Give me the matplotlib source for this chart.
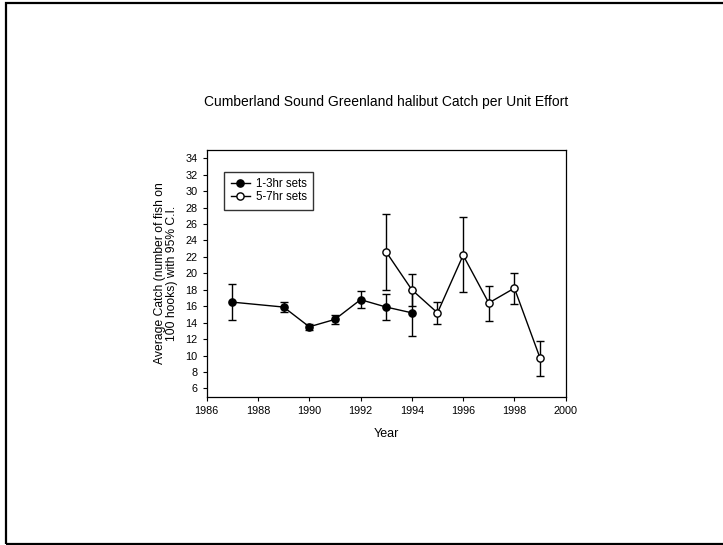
import numpy as np
import matplotlib
matplotlib.use("Agg")
import matplotlib.pyplot as plt
from matplotlib.patches import Rectangle
from matplotlib.lines import Line2D

plt.rcParams['font.family'] = ['Liberation Sans', 'DejaVu Sans']

# 1-3hr sets
yr_short = [1987, 1989, 1990, 1991, 1992, 1993, 1994]
cpue_short = [16.5, 15.9, 13.5, 14.4, 16.8, 15.9, 15.2]
lo_short = [14.3, 15.3, 13.1, 13.9, 15.8, 14.3, 12.4]
hi_short = [18.7, 16.5, 13.9, 14.9, 17.8, 17.5, 18.0]

# 5-7hr sets
yr_long = [1993, 1994, 1995, 1996, 1997, 1998, 1999]
cpue_long = [22.6, 18.0, 15.2, 22.2, 16.4, 18.2, 9.7]
lo_long = [18.0, 16.0, 13.8, 17.7, 14.2, 16.3, 7.5]
hi_long = [27.2, 19.9, 16.5, 26.8, 18.5, 20.0, 11.8]

W, H = 723, 545
fig = plt.figure(figsize=(W / 100, H / 100), dpi=100)
ax = fig.add_axes([206.7 / W, 1 - 396.7 / H, (565.7 - 206.7) / W, (396.7 - 150) / H])


def err(y, lo, hi):
    y = np.array(y)
    return [y - np.array(lo), np.array(hi) - y]


ms = 5.2
ax.errorbar(yr_short, cpue_short, yerr=err(cpue_short, lo_short, hi_short),
            fmt='-o', color='black', mfc='black', mec='black', ms=ms,
            lw=1, elinewidth=1, capsize=3, capthick=1)
ax.errorbar(yr_long, cpue_long, yerr=err(cpue_long, lo_long, hi_long),
            fmt='-o', color='black', mfc='white', mec='black', ms=ms,
            lw=1, elinewidth=1, capsize=3, capthick=1)

ax.set_xlim(1986, 2000)
ax.set_ylim(5, 35)
ax.set_xticks(np.arange(1986, 2001, 2))
ax.set_yticks(np.arange(6, 35, 2))
ax.tick_params(labelsize=7.8, length=3, width=0.8, direction='out')
for s in ax.spines.values():
    s.set_linewidth(0.9)

ax.set_xlabel('Year', fontsize=9, labelpad=9)
ax.set_ylabel('Average Catch (number of fish on\n100 hooks) with 95% C.I.',
              fontsize=8.7, labelpad=5, linespacing=1.0)
fig.text(386 / W, 1 - 102 / H, 'Cumberland Sound Greenland halibut Catch per Unit Effort',
         ha='center', va='center', fontsize=10)

handles = [Line2D([], [], color='black', marker='o', mfc='black', mec='black', ms=ms, lw=1),
           Line2D([], [], color='black', marker='o', mfc='white', mec='black', ms=ms, lw=1)]
leg = ax.legend(handles, ['1-3hr sets', '5-7hr sets'], loc='upper left',
                bbox_to_anchor=((224.3 - 206.7) / 359, (396.7 - 171.7) / 246.7),
                fontsize=8.3, frameon=True, fancybox=False, edgecolor='black',
                handlelength=1.7, handletextpad=0.5, borderpad=0.55,
                labelspacing=0.1, borderaxespad=0)
leg.get_frame().set_linewidth(1)

fig.patches.append(Rectangle((6.5 / W, 1 - 543.5 / H), 1.2, (543.5 - 3) / H,
                             transform=fig.transFigure, fill=False,
                             edgecolor='black', lw=1.6))

fig.savefig('out.png', dpi=100)
